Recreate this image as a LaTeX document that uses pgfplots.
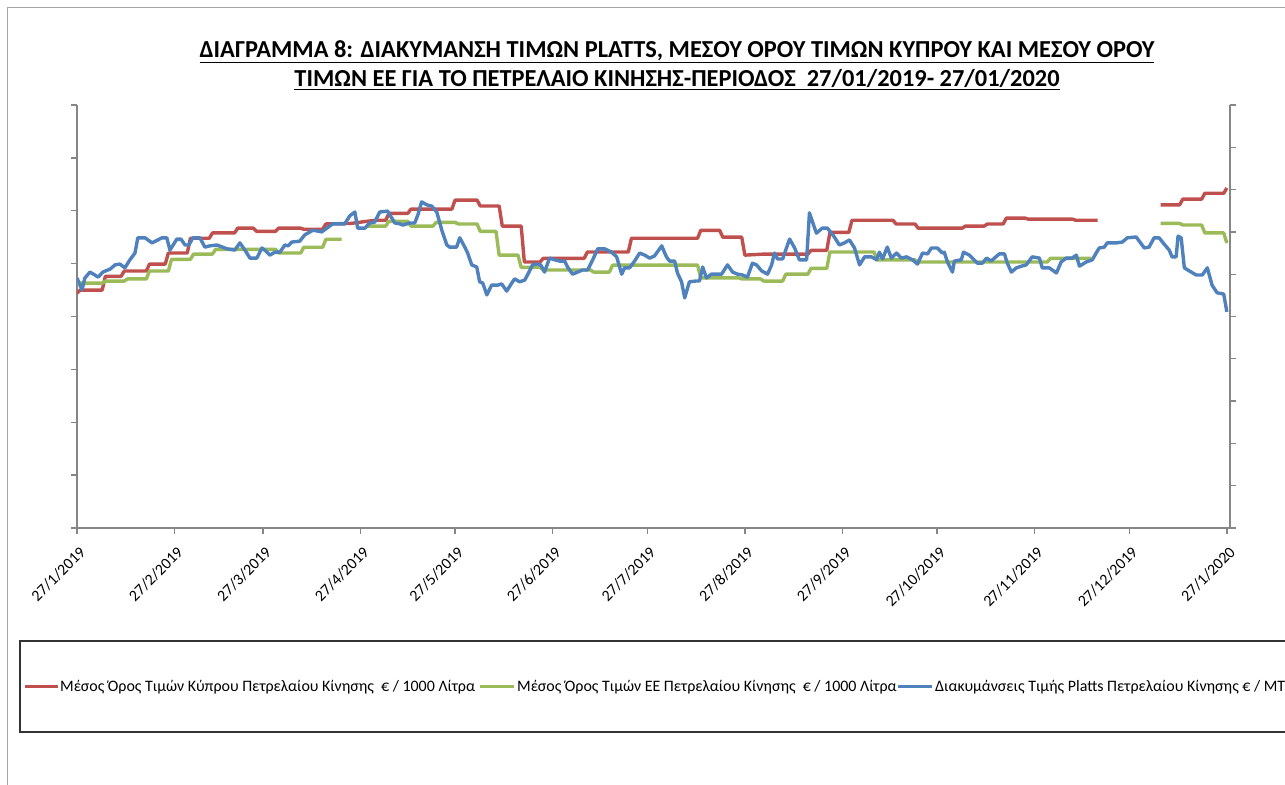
\documentclass[border=0pt]{standalone}
\usepackage{fontspec}
\setmainfont{Carlito}
\usepackage{pgfplots}
\pgfplotsset{compat=1.18}
\definecolor{cred}{HTML}{C0504D}
\definecolor{cgreen}{HTML}{9BBB59}
\definecolor{cblue}{HTML}{4F81BD}
\definecolor{axgray}{HTML}{868686}
\begin{document}
\begin{tikzpicture}[x=1bp,y=1bp]
\clip (0,0) rectangle (1285,785);
\useasboundingbox (0,0) rectangle (1285,785);
\fill[white] (0,0) rectangle (1285,785);
\draw[gray!70, line width=1bp] (7.5,0) -- (7.5,777.5) -- (1290,777.5);
\node[font=\fontsize{24.5}{28}\selectfont\bfseries, anchor=base, inner sep=0pt] at (677,727)
 {\underline{ΔΙΑΓΡΑΜΜΑ 8: ΔΙΑΚΥΜΑΝΣΗ ΤΙΜΩΝ PLATTS, ΜΕΣΟΥ ΟΡΟΥ ΤΙΜΩΝ ΚΥΠΡΟΥ ΚΑΙ ΜΕΣΟΥ ΟΡΟΥ}};
\node[font=\fontsize{24.5}{28}\selectfont\bfseries, anchor=base, inner sep=0pt] at (677,698)
 {\underline{ΤΙΜΩΝ ΕΕ ΓΙΑ ΤΟ ΠΕΤΡΕΛΑΙΟ ΚΙΝΗΣΗΣ-ΠΕΡΙΟΔΟΣ\ \ 27/01/2019- 27/01/2020}};
\pgfplotsset{common/.style={
  at={(77bp,257bp)}, anchor=south west, scale only axis,
  width=1153bp, height=423bp, xmin=0, xmax=366,
  unbounded coords=jump, tick align=outside,
  major tick length=6bp,
  axis line style={draw=axgray, line width=1.3bp},
  tick style={draw=axgray, line width=1.3bp},
  every axis plot/.append style={line width=3.4bp, line join=round, no marks},
}}
\begin{axis}[common,
  ymin=0, ymax=800, ytick={0,100,...,800}, yticklabels={},
  axis x line*=bottom, axis y line*=left,
  xtick={0,31,59,90,120,151,181,212,243,273,304,334,365},
  xticklabels={27/1/2019,27/2/2019,27/3/2019,27/4/2019,27/5/2019,27/6/2019,27/7/2019,27/8/2019,27/9/2019,27/10/2019,27/11/2019,27/12/2019,27/1/2020},
  x tick label style={rotate=45, anchor=north east, font=\fontsize{16}{18}\selectfont, inner sep=1bp, xshift=-6bp, yshift=-8bp},
]
\addplot[cred] coordinates {
(0,444) (1,450) (8,450) (9,476) (14,476) (15,486) (22,486) (23,499) (28,499) (29,520) (35,520) (36,548) (42,548) (43,558) (50,558) (51,567) (56,567) (57,561) (63,561) (64,567) (71,567) (72,565) (78,565) (79,575) (87,576) (92,580) (95,582) (98,582) (99,595) (105,595) (106,603) (119,603) (120,620) (127,620) (128,609) (134,609) (135,571) (141,571) (142,503) (147,503) (148,510) (161,510) (162,522) (175,522) (176,548) (197,548) (198,563) (204,563) (205,550) (211,550) (212,516) (218,518) (232,518) (233,525) (238,525) (239,559) (245,559) (246,582) (259,582) (260,575) (266,575) (267,567) (281,567) (282,571) (288,571) (289,575) (294,575) (295,586) (301,586) (302,584) (316,584) (317,582) (324,582)
(334,nan)
(344,611) (350,611) (351,622) (357,622) (358,633) (364,633) (365,643)
};
\addplot[cgreen] coordinates {
(0,463) (8,463) (9,467) (15,467) (16,471) (22,471) (23,486) (29,486) (30,508) (36,508) (37,518) (43,518) (44,527) (63,527) (64,520) (71,520) (72,531) (78,531) (79,546) (84,546)
(88,nan)
(92,571) (98,571) (99,580) (105,580) (106,571) (113,571) (114,578) (120,578) (121,575) (127,575) (128,561) (133,561) (134,516) (140,516) (141,493) (147,493) (148,488) (163,488) (164,484) (169,484) (170,497) (197,497) (198,473) (210,473) (211,471) (217,471) (218,467) (224,467) (225,480) (232,480) (233,491) (238,491) (239,522) (253,522) (254,507) (266,507) (267,503) (308,503) (309,510) (322,510)
(334,nan)
(344,576) (350,576) (351,573) (357,573) (358,558) (364,558) (365,539)
};
\end{axis}
\begin{axis}[common,
  ymin=0, ymax=1000, ytick={0,100,...,1000}, yticklabels={},
  axis x line=none, axis y line*=right,
]
\addplot[cblue] coordinates {
(0,591) (1.6,563) (2.5,591) (4.1,605) (5.7,598) (6.7,593) (8.2,605) (10.5,612) (12.1,622) (13.6,624) (15.2,615) (16.8,634) (18.4,650) (19.3,686) (21.6,686) (23.8,674) (27,686) (28.5,686) (29.5,657) (31.7,683) (33,683) (34.3,669) (35.5,669) (36.8,686) (39,686) (40.6,664) (42.2,667) (44.4,669) (47.6,660) (50.1,657) (51.7,674) (53.3,657) (54.9,638) (57.1,638) (58.7,662) (59.6,657) (61.2,645) (62.8,652) (64.4,652) (66,669) (67,667) (68.2,676) (70.7,678) (72.3,693) (74.9,704) (77.7,700) (79.3,709) (81.2,719) (85,719) (86.6,738) (88.2,747) (89.1,709) (91.4,709) (92.9,721) (94.5,723) (96.1,747) (98.6,749) (99.9,733) (100.9,721) (102.5,719) (103.4,716) (105.6,721) (107.2,721) (108.2,740) (109.4,771) (111,764) (112.6,761) (114.2,747) (115.8,704) (117.4,669) (118.3,664) (120.5,664) (121.5,686) (123.1,664) (124,650) (125.3,622) (126.9,617) (127.8,582) (128.8,579) (130.1,551) (131.6,574) (133.5,574) (134.8,577) (136.4,560) (138,579) (138.9,589) (140.5,582) (142.1,586) (143,598) (144.6,622) (146.2,624) (147.2,622) (148.4,605) (150,638) (151.6,634) (153.2,631) (154.8,631) (155.7,617) (157.3,600) (158.9,605) (160.5,610) (162.1,610) (163.7,634) (165.3,660) (167.5,660) (169.7,652) (171.3,641) (172.9,600) (173.8,615) (175.4,615) (177,631) (178.6,650) (180.2,645) (181.8,638) (183.3,643) (185.6,667) (187.1,641) (188.1,631) (189.7,631) (190.6,603) (191.9,582) (192.9,544) (194.4,582) (196.7,584) (197.6,584) (198.6,617) (199.8,591) (201.4,600) (204.6,600) (206.5,622) (208.1,605) (209.7,600) (211.3,598) (212.8,593) (214.4,626) (215.7,622) (217.3,608) (219.2,600) (220.5,622) (221.4,650) (222.4,636) (224,636) (225.2,662) (226.2,683) (227.8,662) (229.3,634) (231.6,634) (232.5,745) (234.7,697) (236.6,709) (238.2,709) (240.4,688) (242,669) (243.6,674) (245.2,681) (246.8,662) (248.4,622) (250,641) (252.2,641) (253.8,634) (254.7,652) (255.7,636) (257.2,664) (258.5,638) (260.1,650) (261.7,638) (263.3,641) (265.2,634) (266.8,624) (268.4,650) (270,648) (271.2,662) (273.1,662) (274.7,650) (275.3,652) (276.3,629) (277.9,605) (278.5,631) (280.7,634) (281.4,652) (283.3,645) (285.8,626) (287.4,626) (288.7,638) (290.2,631) (291.2,638) (292.8,648) (294.4,648) (295.3,626) (296.6,605) (298.2,615) (299.8,619) (301.3,622) (303.2,641) (305.5,638) (306.4,615) (308.6,615) (310.9,603) (312.4,629) (314,638) (315.9,638) (317.2,645) (318.2,619) (320.4,629) (322.3,634) (323.5,650) (324.5,662) (326.1,664) (327,674) (329.9,674) (331.8,676) (333.4,686) (336.2,688) (337.2,678) (338.8,662) (340.3,664) (341.9,686) (343.5,686) (345.1,671) (346.7,657) (347.6,641) (348.9,641) (349.5,690) (350.5,686) (351.5,615) (353,608) (355.3,598) (357.2,598) (358.8,615) (360.3,574) (361.9,556) (364,553) (365,511)
};
\end{axis}
% legend
\draw[black!80, line width=1.2bp] (20,53) rectangle (1300,144);
\draw[cred, line width=3.4bp] (25,98.5) -- (58,98.5);
\node[anchor=base west, inner sep=0pt, font=\fontsize{16}{18}\selectfont] at (60,93.5) {Μέσος Όρος Τιμών Κύπρου Πετρελαίου Κίνησης\ \ € / 1000 Λίτρα};
\draw[cgreen, line width=3.4bp] (480,98.5) -- (514,98.5);
\node[anchor=base west, inner sep=0pt, font=\fontsize{16}{18}\selectfont] at (517,93.5) {Μέσος Όρος Τιμών ΕΕ Πετρελαίου Κίνησης\ \ € / 1000 Λίτρα};
\draw[cblue, line width=3.4bp] (898,98.5) -- (932,98.5);
\node[anchor=base west, inner sep=0pt, font=\fontsize{16}{18}\selectfont] at (935,93.5) {Διακυμάνσεις Τιμής Platts Πετρελαίου Κίνησης € / MT};
\end{tikzpicture}
\end{document}
